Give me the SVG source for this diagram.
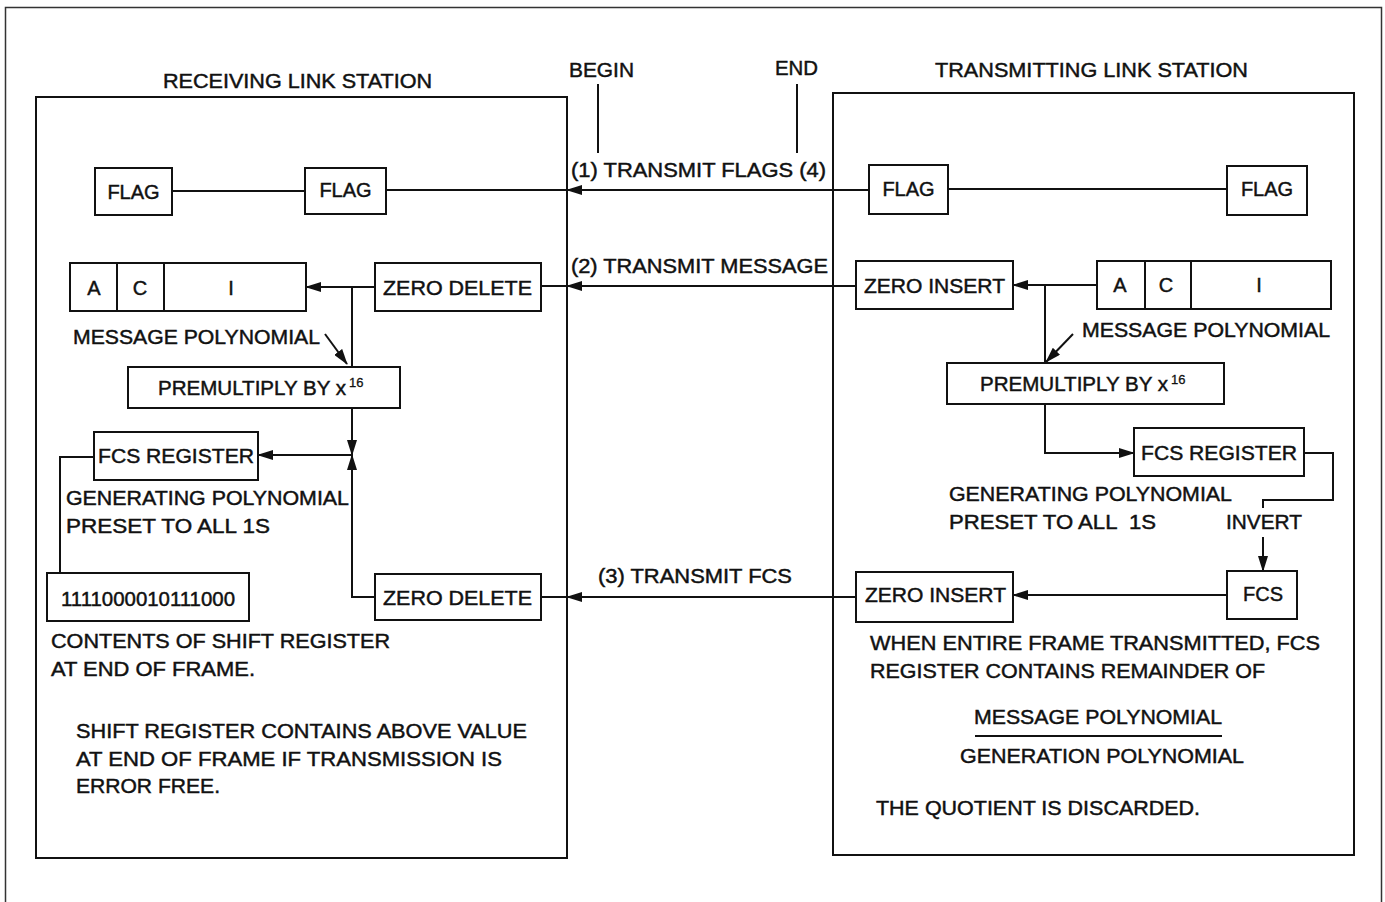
<svg xmlns="http://www.w3.org/2000/svg" width="1385" height="902" viewBox="0 0 1385 902">
<style>
text{font-family:"Liberation Sans",Arial,sans-serif;font-size:20px;fill:#111;stroke:#111;stroke-width:0.45;}
.box{fill:#fff;stroke:#111;stroke-width:2;}
.panel{fill:none;stroke:#111;stroke-width:2;}
.ln{fill:none;stroke:#111;stroke-width:2;}
.c{text-anchor:middle;}
.sup{font-size:13px;stroke-width:0.3;}
</style>
<defs>
<marker id="ah" markerUnits="userSpaceOnUse" markerWidth="16" markerHeight="10" refX="15" refY="5" orient="auto">
<path d="M0,0 L16,5 L0,10 z" fill="#111"/>
</marker>
</defs>
<rect x="0" y="0" width="1385" height="902" fill="#fff"/>
<rect x="5.5" y="7.5" width="1376" height="900" fill="none" stroke="#333" stroke-width="1.5"/>

<g id="receiving-station">
<rect class="panel" x="36" y="97" width="531" height="761"/>
<text x="163" y="88" textLength="269" lengthAdjust="spacingAndGlyphs">RECEIVING LINK STATION</text>
</g>
<g id="transmitting-station">
<rect class="panel" x="833" y="93" width="521" height="762"/>
<text x="935" y="77" textLength="313" lengthAdjust="spacingAndGlyphs">TRANSMITTING LINK STATION</text>
</g>

<g id="begin-end">
<text x="569" y="77" textLength="65" lengthAdjust="spacingAndGlyphs">BEGIN</text>
<text x="775" y="75" textLength="43" lengthAdjust="spacingAndGlyphs">END</text>
</g>

<g id="connectors">
<line class="ln" x1="598" y1="84" x2="598" y2="153"/>
<line class="ln" x1="797" y1="84" x2="797" y2="153"/>
<line class="ln" x1="172" y1="191" x2="305" y2="191"/>
<line class="ln" x1="869" y1="190" x2="567" y2="190" marker-end="url(#ah)"/>
<line class="ln" x1="567" y1="190" x2="386" y2="190"/>
<line class="ln" x1="948" y1="189" x2="1227" y2="189"/>
<line class="ln" x1="856" y1="286" x2="567" y2="286" marker-end="url(#ah)"/>
<line class="ln" x1="567" y1="286" x2="541" y2="286"/>
<line class="ln" x1="375" y1="287" x2="306" y2="287" marker-end="url(#ah)"/>
<line class="ln" x1="352" y1="287" x2="352" y2="367"/>
<line class="ln" x1="325" y1="334" x2="347" y2="364" marker-end="url(#ah)"/>
<line class="ln" x1="352" y1="408" x2="352" y2="455" marker-end="url(#ah)"/>
<polyline class="ln" points="375,597 352,597 352,455" marker-end="url(#ah)"/>
<line class="ln" x1="352" y1="455" x2="258" y2="455" marker-end="url(#ah)"/>
<polyline class="ln" points="94,457 60,457 60,573"/>
<line class="ln" x1="856" y1="597" x2="567" y2="597" marker-end="url(#ah)"/>
<line class="ln" x1="567" y1="597" x2="541" y2="597"/>
<line class="ln" x1="1097" y1="285" x2="1013" y2="285" marker-end="url(#ah)"/>
<line class="ln" x1="1045" y1="285" x2="1045" y2="363"/>
<line class="ln" x1="1073" y1="334" x2="1046" y2="362" marker-end="url(#ah)"/>
<polyline class="ln" points="1045,404 1045,453 1134,453" marker-end="url(#ah)"/>
<polyline class="ln" points="1304,453 1333,453 1333,500 1263,500 1263,508"/>
<line class="ln" x1="1263" y1="537" x2="1263" y2="571" marker-end="url(#ah)"/>
<line class="ln" x1="1227" y1="595" x2="1013" y2="595" marker-end="url(#ah)"/>
<line class="ln" x1="975" y1="736" x2="1222" y2="736"/>
</g>

<g id="link-labels">
<text x="571" y="177" textLength="255" lengthAdjust="spacingAndGlyphs">(1) TRANSMIT FLAGS (4)</text>
<text x="571" y="273" textLength="257" lengthAdjust="spacingAndGlyphs">(2) TRANSMIT MESSAGE</text>
<text x="598" y="583" textLength="194" lengthAdjust="spacingAndGlyphs">(3) TRANSMIT FCS</text>
</g>

<g id="rx-flag1"><rect class="box" x="95" y="168" width="77" height="47"/><text class="c" x="133.5" y="199">FLAG</text></g>
<g id="rx-flag2"><rect class="box" x="305" y="168" width="81" height="46"/><text class="c" x="345.5" y="197">FLAG</text></g>
<g id="tx-flag1"><rect class="box" x="869" y="165" width="79" height="49"/><text class="c" x="908.5" y="196">FLAG</text></g>
<g id="tx-flag2"><rect class="box" x="1227" y="166" width="80" height="49"/><text class="c" x="1267" y="196">FLAG</text></g>

<g id="rx-aci">
<rect class="box" x="70" y="263" width="236" height="48"/>
<line class="ln" x1="117" y1="263" x2="117" y2="311"/>
<line class="ln" x1="164" y1="263" x2="164" y2="311"/>
<text class="c" x="94" y="295">A</text><text class="c" x="140" y="295">C</text><text class="c" x="231" y="295">I</text>
</g>
<g id="rx-zero-delete1"><rect class="box" x="375" y="263" width="166" height="48"/><text x="383" y="295" textLength="149" lengthAdjust="spacingAndGlyphs">ZERO DELETE</text></g>
<g id="rx-msg-label"><text x="73" y="344" textLength="247" lengthAdjust="spacingAndGlyphs">MESSAGE POLYNOMIAL</text></g>
<g id="rx-premultiply"><rect class="box" x="128" y="367" width="272" height="41"/><text x="158" y="395" textLength="188" lengthAdjust="spacingAndGlyphs">PREMULTIPLY BY x</text><text class="sup" x="349" y="387">16</text></g>
<g id="rx-fcs-register"><rect class="box" x="94" y="432" width="164" height="48"/><text x="98" y="463" textLength="156" lengthAdjust="spacingAndGlyphs">FCS REGISTER</text></g>
<g id="rx-gen-label">
<text x="66" y="505" textLength="283" lengthAdjust="spacingAndGlyphs">GENERATING POLYNOMIAL</text>
<text x="66" y="533" textLength="204" lengthAdjust="spacingAndGlyphs">PRESET TO ALL 1S</text>
</g>
<g id="rx-shift-value"><rect class="box" x="47" y="573" width="202" height="48"/><text x="61" y="606" textLength="174" lengthAdjust="spacingAndGlyphs">1111000010111000</text></g>
<g id="rx-zero-delete2"><rect class="box" x="375" y="574" width="166" height="46"/><text x="383" y="605" textLength="149" lengthAdjust="spacingAndGlyphs">ZERO DELETE</text></g>
<g id="rx-notes">
<text x="51" y="648" textLength="339" lengthAdjust="spacingAndGlyphs">CONTENTS OF SHIFT REGISTER</text>
<text x="51" y="676" textLength="204" lengthAdjust="spacingAndGlyphs">AT END OF FRAME.</text>
<text x="76" y="738" textLength="451" lengthAdjust="spacingAndGlyphs">SHIFT REGISTER CONTAINS ABOVE VALUE</text>
<text x="76" y="766" textLength="426" lengthAdjust="spacingAndGlyphs">AT END OF FRAME IF TRANSMISSION IS</text>
<text x="76" y="793" textLength="144" lengthAdjust="spacingAndGlyphs">ERROR FREE.</text>
</g>

<g id="tx-zero-insert1"><rect class="box" x="856" y="261" width="157" height="48"/><text x="864" y="293" textLength="141" lengthAdjust="spacingAndGlyphs">ZERO INSERT</text></g>
<g id="tx-aci">
<rect class="box" x="1097" y="261" width="234" height="48"/>
<line class="ln" x1="1145" y1="261" x2="1145" y2="309"/>
<line class="ln" x1="1191" y1="261" x2="1191" y2="309"/>
<text class="c" x="1120" y="292">A</text><text class="c" x="1166" y="292">C</text><text class="c" x="1259" y="292">I</text>
</g>
<g id="tx-msg-label"><text x="1082" y="337" textLength="248" lengthAdjust="spacingAndGlyphs">MESSAGE POLYNOMIAL</text></g>
<g id="tx-premultiply"><rect class="box" x="947" y="363" width="277" height="41"/><text x="980" y="391" textLength="188" lengthAdjust="spacingAndGlyphs">PREMULTIPLY BY x</text><text class="sup" x="1171" y="384">16</text></g>
<g id="tx-fcs-register"><rect class="box" x="1134" y="428" width="170" height="48"/><text x="1141" y="460" textLength="156" lengthAdjust="spacingAndGlyphs">FCS REGISTER</text></g>
<g id="tx-gen-label">
<text x="949" y="501" textLength="283" lengthAdjust="spacingAndGlyphs">GENERATING POLYNOMIAL</text>
<text x="949" y="529" textLength="207" lengthAdjust="spacingAndGlyphs" xml:space="preserve">PRESET TO ALL  1S</text>
<text x="1226" y="529" textLength="76" lengthAdjust="spacingAndGlyphs">INVERT</text>
</g>
<g id="tx-fcs"><rect class="box" x="1227" y="571" width="70" height="48"/><text class="c" x="1263" y="601">FCS</text></g>
<g id="tx-zero-insert2"><rect class="box" x="856" y="572" width="157" height="50"/><text x="865" y="602" textLength="141" lengthAdjust="spacingAndGlyphs">ZERO INSERT</text></g>
<g id="tx-notes">
<text x="870" y="650" textLength="450" lengthAdjust="spacingAndGlyphs">WHEN ENTIRE FRAME TRANSMITTED, FCS</text>
<text x="870" y="678" textLength="395" lengthAdjust="spacingAndGlyphs">REGISTER CONTAINS REMAINDER OF</text>
<text x="974" y="724" textLength="248" lengthAdjust="spacingAndGlyphs">MESSAGE POLYNOMIAL</text>
<text x="960" y="763" textLength="284" lengthAdjust="spacingAndGlyphs">GENERATION POLYNOMIAL</text>
<text x="876" y="815" textLength="324" lengthAdjust="spacingAndGlyphs">THE QUOTIENT IS DISCARDED.</text>
</g>
</svg>
